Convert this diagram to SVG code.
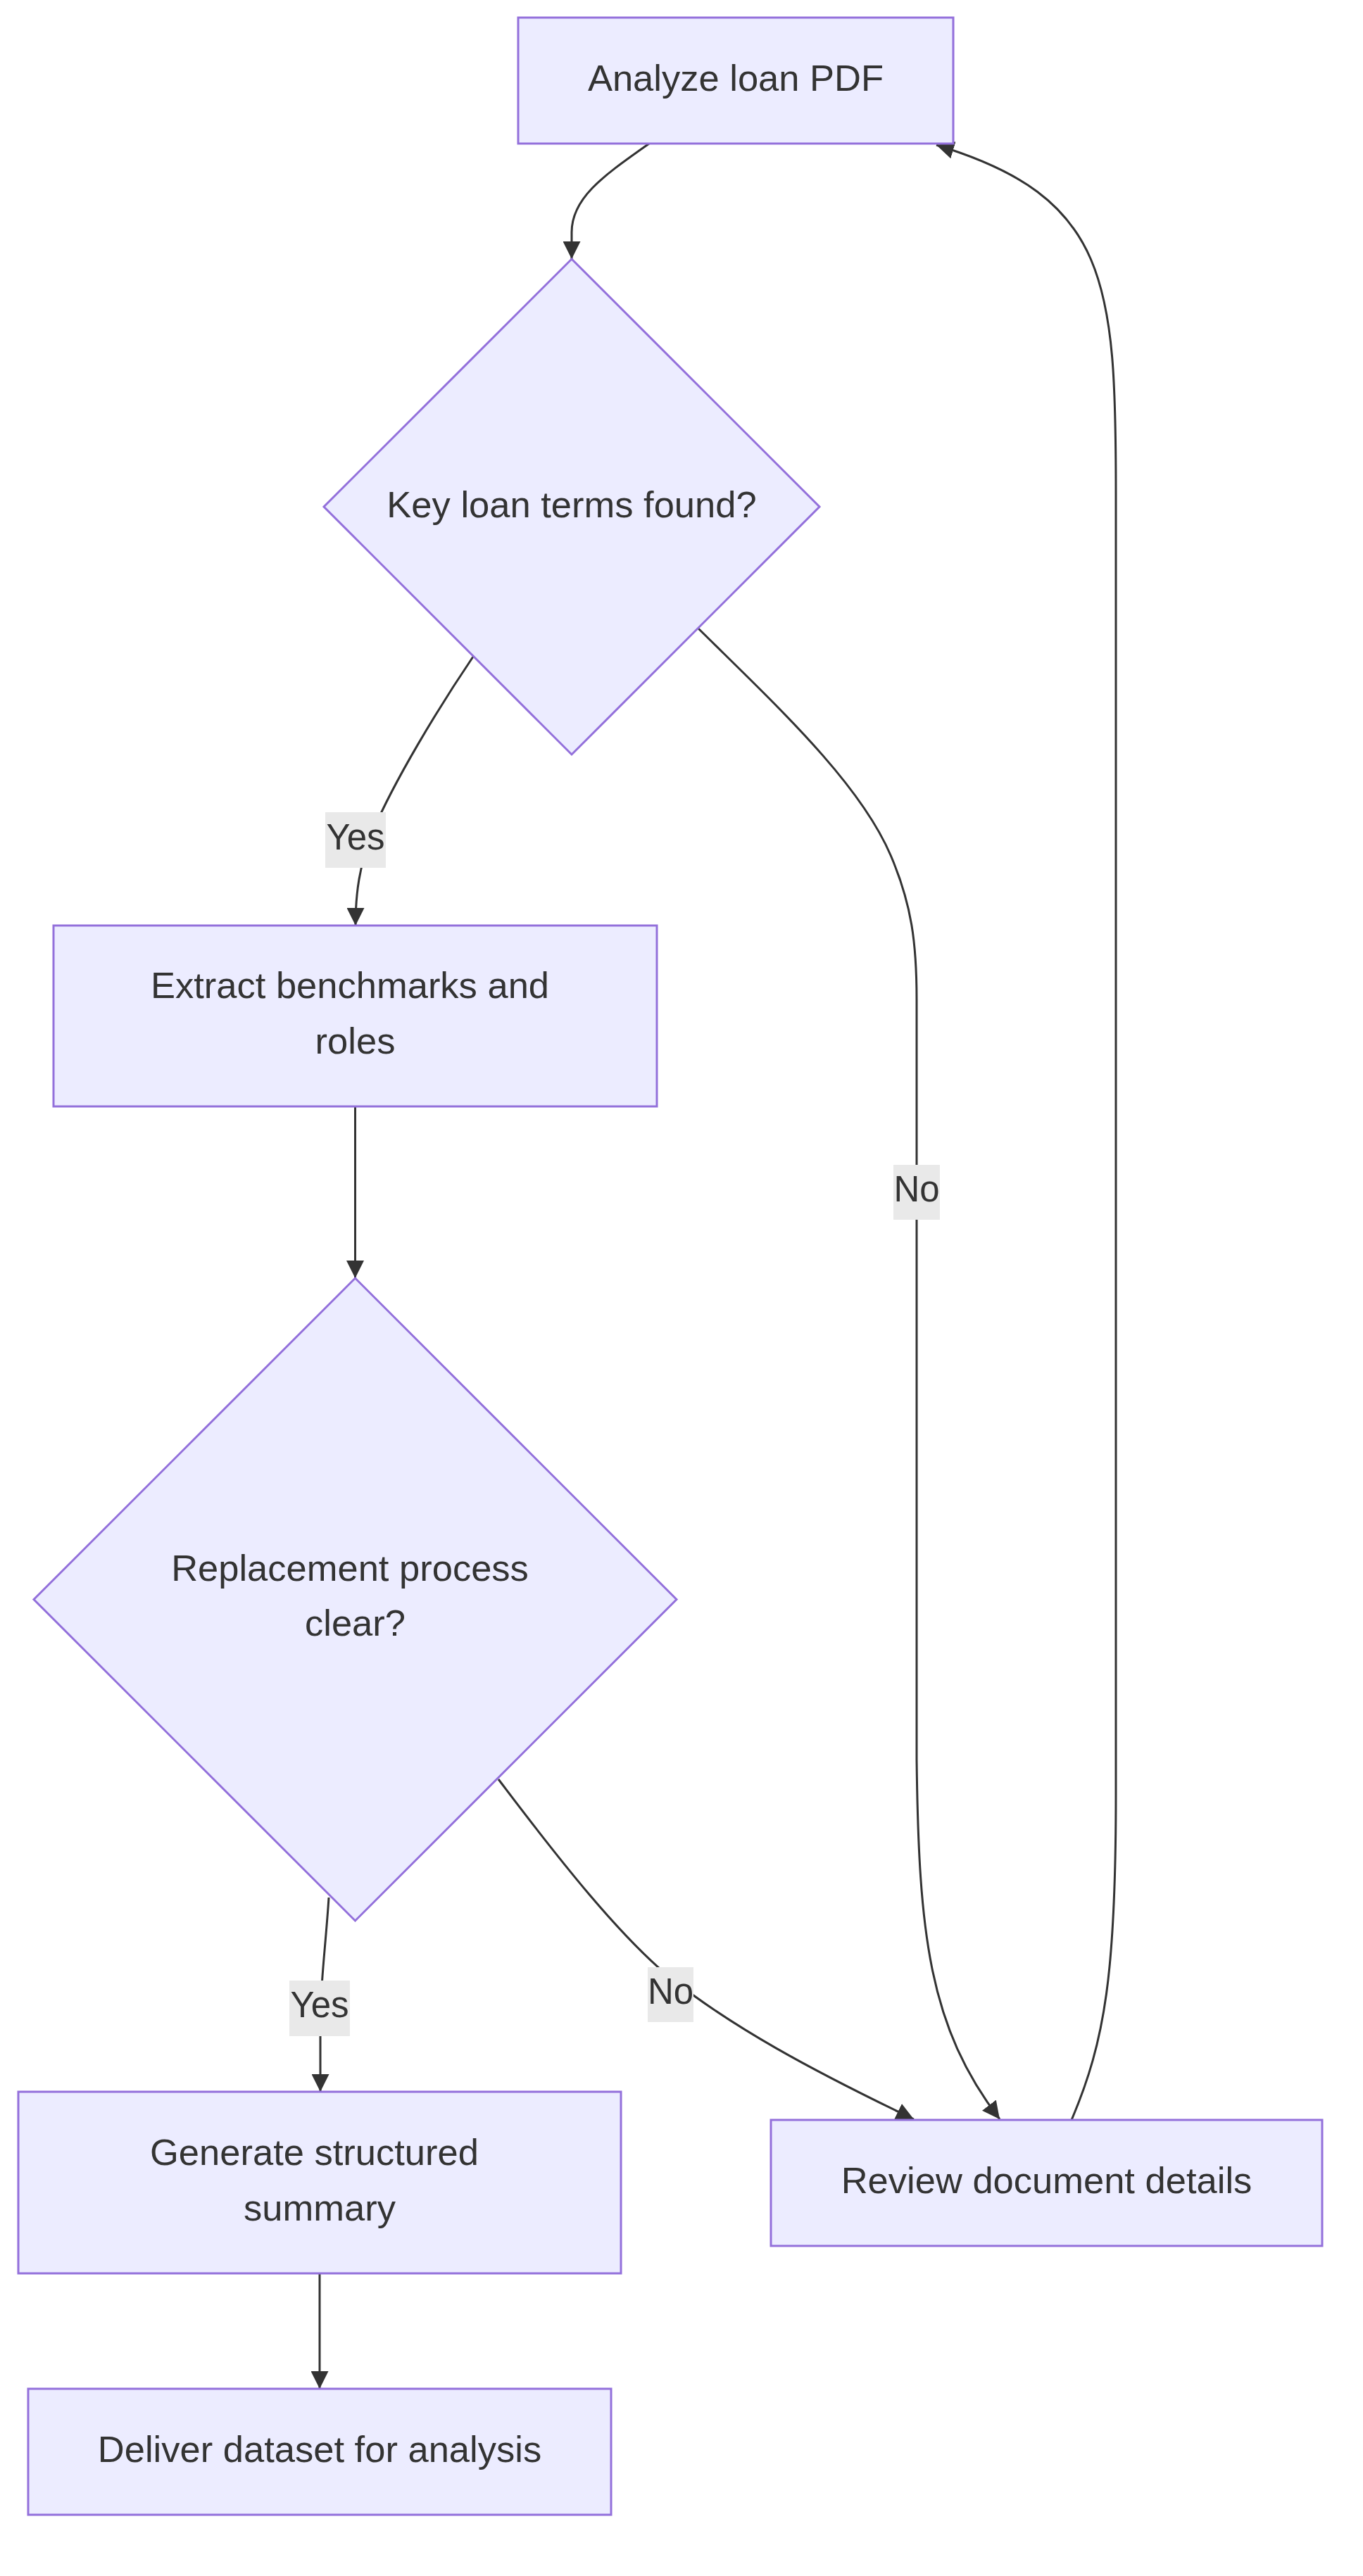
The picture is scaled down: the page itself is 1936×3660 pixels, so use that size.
<svg xmlns="http://www.w3.org/2000/svg" width="1936" height="3660" viewBox="0 0 1936 3660">
<defs>
<style>
.node rect, .node polygon { fill: #ECECFF; stroke: #9370DB; stroke-width: 3; }
.node text { font-family: "Liberation Sans", Arial, sans-serif; font-size: 52.5px; fill: #333333; text-anchor: middle; }
.edge { fill: none; stroke: #333333; stroke-width: 3; marker-end: url(#arrow); }
.lbl rect { fill: #E9E9E9; stroke: none; }
.lbl text { font-family: "Liberation Sans", Arial, sans-serif; font-size: 51px; fill: #333333; text-anchor: middle; }
</style>
<marker id="arrow" viewBox="0 0 10 10" refX="10" refY="5" markerUnits="userSpaceOnUse" markerWidth="25" markerHeight="25" orient="auto">
<path d="M0,0 L10,5 L0,10 z" fill="#333333"/>
</marker>
</defs>
<rect x="0" y="0" width="1936" height="3660" fill="#FFFFFF"/>
<g id="connectors">
<path class="edge" d="M922,204 C860,248 812,280 812,330 L812,368"/>
<path class="edge" d="M672,933 C620,1010 560,1110 530,1180 C510,1230 505,1270 505,1315"/>
<path class="edge" d="M992,893 C1100,1000 1220,1110 1265,1215 C1295,1285 1302,1340 1302,1420 L1302,2500 C1305,2750 1320,2880 1420,3011"/>
<path class="edge" d="M1522,3012 C1570,2900 1585,2800 1585,2550 L1585,700 C1585,400 1575,280 1330,206"/>
<path class="edge" d="M504.5,1572 L504.5,1816"/>
<path class="edge" d="M467,2696 C463,2760 455,2820 455,2870 L455,2972"/>
<path class="edge" d="M708,2528 C800,2650 880,2750 952,2810 C1040,2880 1150,2940 1298,3011"/>
<path class="edge" d="M454,3230 L454,3394"/>
</g>
<g id="edge-labels">
<g class="lbl" id="label-yes-1"><rect x="462" y="1154" width="86" height="79"/><text x="505" y="1207">Yes</text></g>
<g class="lbl" id="label-no-1"><rect x="1269" y="1655" width="66" height="78"/><text x="1302" y="1707">No</text></g>
<g class="lbl" id="label-yes-2"><rect x="411" y="2814" width="86" height="79"/><text x="454" y="2866">Yes</text></g>
<g class="lbl" id="label-no-2"><rect x="920" y="2795" width="65" height="78"/><text x="952.5" y="2847">No</text></g>
</g>
<g class="node" id="analyze">
<rect x="736" y="25" width="618" height="179"/>
<text x="1045" y="128.5">Analyze loan PDF</text>
</g>
<g class="node" id="key-terms">
<polygon points="812,368 1164,720 812,1072 460,720"/>
<text x="812" y="735">Key loan terms found?</text>
</g>
<g class="node" id="extract">
<rect x="76" y="1315" width="857" height="257"/>
<text x="497" y="1418">Extract benchmarks and</text>
<text x="504.5" y="1497">roles</text>
</g>
<g class="node" id="replacement">
<polygon points="504.5,1816 961,2272.5 504.5,2729 48,2272.5"/>
<text x="497" y="2246">Replacement process</text>
<text x="504.5" y="2324">clear?</text>
</g>
<g class="node" id="generate">
<rect x="26" y="2972" width="856" height="258"/>
<text x="446.5" y="3076">Generate structured</text>
<text x="454" y="3155">summary</text>
</g>
<g class="node" id="review">
<rect x="1095" y="3012" width="783" height="179"/>
<text x="1486.5" y="3116">Review document details</text>
</g>
<g class="node" id="deliver">
<rect x="40" y="3394" width="828" height="179"/>
<text x="454" y="3498">Deliver dataset for analysis</text>
</g>
</svg>
